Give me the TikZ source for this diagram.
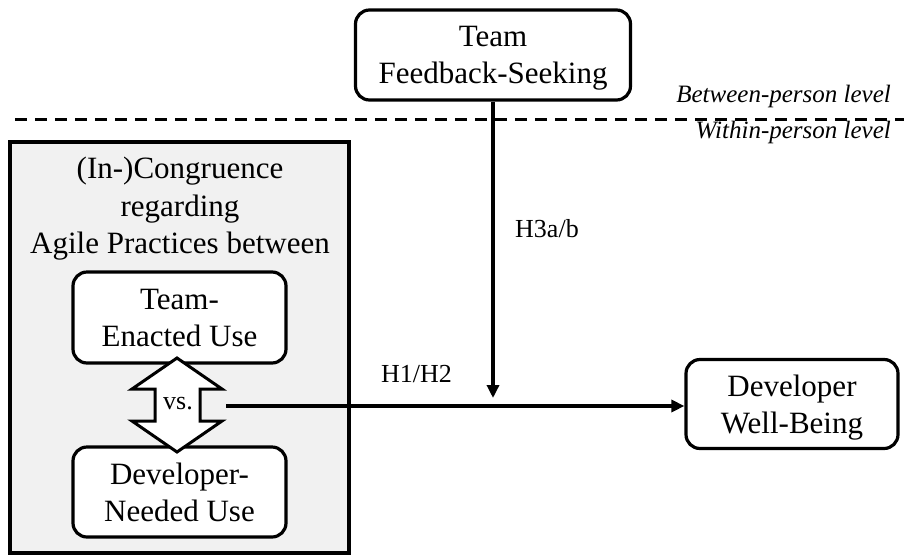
\documentclass[tikz,border=0pt]{standalone}
\usepackage{fontspec}
\setmainfont{Liberation Serif}
\usetikzlibrary{arrows.meta}
\definecolor{panel}{HTML}{F1F1F1}
\begin{document}
\begin{tikzpicture}[x=1pt,y=-1pt,
  box/.style={draw, line width=3.2pt, rounded corners=14pt, fill=white, align=center,
    inner sep=0pt, text depth=0pt, font=\fontsize{31}{37}\selectfont},
  conn/.style={line width=3.6pt, -{Triangle[length=13pt,width=12pt]}},
  lbl/.style={font=\fontsize{26}{30}\selectfont, inner sep=0pt},
  lvl/.style={font=\fontsize{25}{30}\selectfont\itshape, inner sep=0pt}]
\useasboundingbox (0,0) rectangle (904,555);

% level separator
\coordinate (dl) at (15,119);
\coordinate (dr) at (904,119);
\draw[line width=3pt, dash pattern=on 12pt off 8pt] (dl) -- (dr);
\node[lvl, anchor=base east] (between) at (891,102) {Between-person level};
\node[lvl, anchor=base east] (within) at (891,138) {Within-person level};

% moderator
\node[box, minimum width=275pt, minimum height=90pt] (fb) at (493,55) {Team\\Feedback-Seeking};

% congruence panel
\node[draw, line width=3.2pt, fill=panel, minimum width=339pt, minimum height=411pt, inner sep=0pt] (cong) at (179.5,347.5) {};
\node[align=center, inner sep=0pt, anchor=north, font=\fontsize{31}{37.5}\selectfont] (congtitle) at (180,157) {(In-)Congruence\\regarding\\Agile Practices between};

\node[box, minimum width=213pt, minimum height=91pt] (team) at (179.5,317.5) {Team-\\Enacted Use};
\node[box, minimum width=213pt, minimum height=90pt] (dev) at (179.5,492) {Developer-\\Needed Use};

% double arrow
\draw[line width=3pt, fill=white, line join=miter]
  (177,358) -- (222,389) -- (200,389) -- (200,421) -- (222,421) -- (177,452)
  -- (132,421) -- (155,421) -- (155,389) -- (132,389) -- cycle;
\node[lbl] (vs) at (178,404) {vs.};

% outcome
\node[box, minimum width=212pt, minimum height=89pt] (wb) at (792,404) {Developer\\Well-Being};

% connectors
\coordinate (vsout) at (226,406);
\draw[conn] (vsout) -- (vsout -| wb.west);
\coordinate (mod) at (493,398);
\draw[conn] (fb.south) -- (mod);

\node[lbl, anchor=base west] (h12) at (381,382) {H1/H2};
\node[lbl, anchor=base west] (h3) at (515,237) {H3a/b};
\end{tikzpicture}
\end{document}
